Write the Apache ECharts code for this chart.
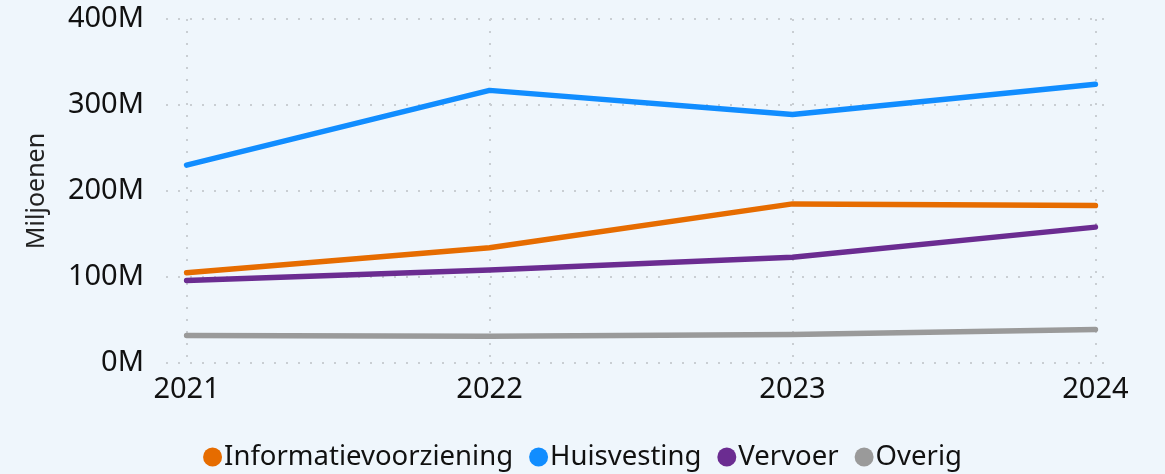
<!DOCTYPE html>
<html>
<head>
<meta charset="utf-8">
<script src="https://cdn.jsdelivr.net/npm/echarts@6/dist/echarts.min.js"></script>
<style>
  html, body { margin: 0; padding: 0; background: #EFF6FC; }
  #chart { width: 1165px; height: 474px; }
</style>
</head>
<body>
<div id="chart"></div>
<script>
// Data (millions)
const years = [2021, 2022, 2023, 2024];
const informatievoorziening = [105, 134, 185, 183];
const huisvesting = [230, 317, 289, 324];
const vervoer = [96, 108, 123, 158];
const overig = [32, 31, 33, 39];
const yTicks = [0, 100, 200, 300, 400];

const chart = echarts.init(document.getElementById('chart'));
const FONT = "'Segoe UI', 'Noto Sans', sans-serif";
const gridLine = { show: true, lineStyle: { color: '#c9ced3', type: [2, 10], width: 2 } };

function pairs(vals) {
  return years.map((y, i) => [y, vals[i]]);
}

function lineSeries(name, vals, color) {
  return {
    name: name,
    type: 'line',
    data: pairs(vals),
    symbol: 'none',
    lineStyle: { color: color, width: 5.5, cap: 'round', join: 'round' },
    itemStyle: { color: color },
    emphasis: { disabled: true }
  };
}

const options = {
  backgroundColor: '#EFF6FC',
  animation: false,
  textStyle: { fontFamily: FONT },
  grid: { left: 166, right: 52, top: 19, bottom: 111, containLabel: false },
  legend: {
    bottom: -2,
    left: 'center',
    icon: 'circle',
    itemWidth: 19,
    itemHeight: 19,
    itemGap: 16,
    textStyle: { fontSize: 27.5, color: '#111', fontFamily: FONT, padding: [0, 0, 0, -3] },
    data: ['Informatievoorziening', 'Huisvesting', 'Vervoer', 'Overig']
  },
  xAxis: {
    type: 'value',
    min: 2020.932,
    max: 2024.058,
    axisLine: { show: false },
    axisTick: { show: false, customValues: years },
    axisLabel: {
      customValues: years,
      fontSize: 29, color: '#111', margin: 12, fontFamily: FONT,
      formatter: v => String(v)
    },
    splitLine: gridLine
  },
  yAxis: {
    type: 'value',
    min: 0,
    max: 400,
    interval: 100,
    name: 'Miljoenen',
    nameLocation: 'middle',
    nameRotate: 90,
    nameGap: 117,
    nameTextStyle: { fontSize: 25, color: '#222', fontFamily: FONT },
    axisLine: { show: false },
    axisTick: { show: false },
    axisLabel: {
      fontSize: 29, color: '#111', margin: 22, fontFamily: FONT,
      formatter: v => yTicks.includes(v) ? v + 'M' : ''
    },
    splitLine: gridLine
  },
  series: [
    lineSeries('Informatievoorziening', informatievoorziening, '#E66C00'),
    lineSeries('Huisvesting', huisvesting, '#118DFF'),
    lineSeries('Vervoer', vervoer, '#6B2C91'),
    lineSeries('Overig', overig, '#9A9A9A')
  ]
};

chart.setOption(options);
</script>
</body>
</html>
